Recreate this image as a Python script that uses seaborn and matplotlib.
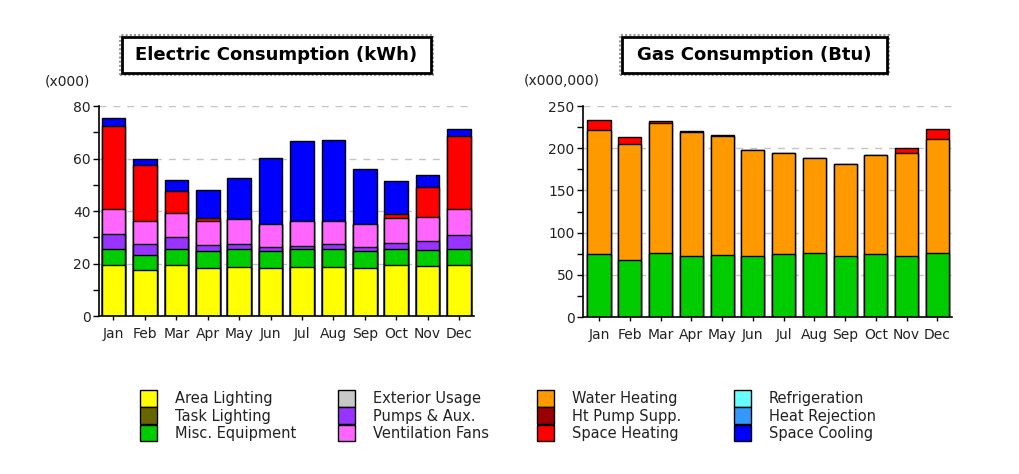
# Monthly electric and gas consumption, stacked by end use

import pandas as pd
import numpy as np
import matplotlib
matplotlib.use('Agg')
import matplotlib.pyplot as plt
from matplotlib.patches import Patch, Rectangle
from matplotlib.ticker import MultipleLocator
import seaborn as sns

sns.set_style('ticks')
plt.rcParams['font.family'] = ['DejaVu Sans']

# Data
months = ['Jan', 'Feb', 'Mar', 'Apr', 'May', 'Jun', 'Jul', 'Aug', 'Sep', 'Oct', 'Nov', 'Dec']

## Electric (x000 kWh)
elec_area_lighting = [19.3, 17.4, 19.3, 18.4, 18.8, 18.3, 18.8, 18.8, 18.3, 19.3, 18.9, 19.4]
elec_misc_equipment = [6.4, 5.8, 6.3, 6.3, 6.8, 6.4, 6.8, 6.8, 6.5, 6.3, 6.2, 6.1]
elec_pumps_aux = [5.5, 4.3, 4.4, 2.4, 2.0, 1.6, 1.2, 1.9, 1.5, 2.4, 3.6, 5.5]
elec_vent_fans = [9.5, 8.6, 9.3, 9.2, 9.2, 8.8, 9.3, 8.6, 8.8, 9.3, 9.1, 9.8]
elec_space_heating = [31.7, 21.3, 8.3, 1.1, 0.0, 0.0, 0.0, 0.0, 0.0, 1.6, 11.3, 27.7]
elec_space_cooling = [3.0, 2.4, 4.2, 10.6, 15.6, 25.1, 30.4, 30.8, 20.9, 12.4, 4.7, 2.8]

## Gas (x000,000 Btu)
gas_misc_equipment = [74.4, 68.0, 75.9, 72.8, 74.0, 72.8, 74.4, 76.3, 72.8, 74.4, 72.8, 76.3]
gas_water_heating = [147.1, 137.3, 153.5, 146.3, 140.4, 124.6, 119.8, 111.6, 108.4, 117.8, 121.8, 134.9]
gas_space_heating = [11.9, 8.3, 2.4, 1.6, 1.2, 0.0, 0.0, 0.0, 0.0, 0.0, 5.6, 11.5]

# Colours for each end use
colors = {
    'Area Lighting': '#ffff00',
    'Task Lighting': '#666600',
    'Misc. Equipment': '#00cc00',
    'Exterior Usage': '#c8c8c8',
    'Pumps & Aux.': '#9933ff',
    'Ventilation Fans': '#ff66ff',
    'Water Heating': '#ff9900',
    'Ht Pump Supp.': '#990000',
    'Space Heating': '#ff0000',
    'Refrigeration': '#66ffff',
    'Heat Rejection': '#3399ff',
    'Space Cooling': '#0000ff',
}

elec = pd.DataFrame({'Area Lighting': elec_area_lighting,
                     'Misc. Equipment': elec_misc_equipment,
                     'Pumps & Aux.': elec_pumps_aux,
                     'Ventilation Fans': elec_vent_fans,
                     'Space Heating': elec_space_heating,
                     'Space Cooling': elec_space_cooling}, index=months)

gas = pd.DataFrame({'Misc. Equipment': gas_misc_equipment,
                    'Water Heating': gas_water_heating,
                    'Space Heating': gas_space_heating}, index=months)


def stacked(ax, df):
    # draw cumulative totals from the top layer down so lower layers cover
    cum = df.cumsum(axis=1)
    for col in cum.columns[::-1]:
        sns.barplot(x=cum.index, y=cum[col].values, order=months, ax=ax,
                    color=colors[col], saturation=1, width=0.75,
                    edgecolor='black', linewidth=1, errorbar=None)
    ax.set_xlabel('')
    ax.set_ylabel('')


def style_axis(ax, ymax, major, minor, xleft):
    ax.set_ylim(0, ymax)
    ax.set_xlim(xleft, 11.475)
    ax.yaxis.set_major_locator(MultipleLocator(major))
    ax.yaxis.set_minor_locator(MultipleLocator(minor))
    ax.set_axisbelow(True)
    ax.grid(axis='y', which='major', color='#c4c4c4', linestyle=(0, (5, 5)), linewidth=1)
    sns.despine(ax=ax)
    for s in ['left', 'bottom']:
        ax.spines[s].set_color('black')
        ax.spines[s].set_linewidth(1.2)
    ax.tick_params(axis='y', which='both', direction='out', length=4, width=1,
                   color='black', labelsize=10, labelcolor='#222222', pad=2)
    ax.tick_params(axis='x', direction='out', length=3, width=1, color='black',
                   labelsize=10, labelcolor='#222222', pad=5)


fig = plt.figure(figsize=(10.2, 4.74), dpi=100)
fig.patch.set_facecolor('white')

ax1 = fig.add_axes([0.0971, 0.3333, 0.3676, 0.443])
stacked(ax1, elec)
style_axis(ax1, 80, 20, 10, -0.46)

ax2 = fig.add_axes([0.5716, 0.3312, 0.3618, 0.4451])
stacked(ax2, gas)
style_axis(ax2, 250, 50, 25, -0.518)

# Unit labels
fig.text(0.0441, 0.829, '(x000)', fontsize=10, color='#222222', va='center')
fig.text(0.5137, 0.829, '(x000,000)', fontsize=10, color='#222222', va='center')

# Boxed titles
for x0, w, title in [(0.1196, 0.303, 'Electric Consumption (kWh)'),
                     (0.6098, 0.260, 'Gas Consumption (Btu)')]:
    y0, h = 0.846, 0.076
    fig.patches.append(Rectangle((x0 - 0.002, y0 - 0.004), w + 0.004, h + 0.008,
                                 transform=fig.transFigure, facecolor='white',
                                 edgecolor='#999999', linewidth=1.5, linestyle=(0, (1, 1))))
    fig.patches.append(Rectangle((x0, y0), w, h, transform=fig.transFigure,
                                 facecolor='white', edgecolor='black', linewidth=2))
    fig.text(x0 + w / 2, y0 + h / 2, title, fontsize=13, fontweight='bold',
             ha='center', va='center', color='black')

# Legend: four columns of three
legend_cols = [['Area Lighting', 'Task Lighting', 'Misc. Equipment'],
               ['Exterior Usage', 'Pumps & Aux.', 'Ventilation Fans'],
               ['Water Heating', 'Ht Pump Supp.', 'Space Heating'],
               ['Refrigeration', 'Heat Rejection', 'Space Cooling']]
legend_x = [0.1373, 0.3314, 0.5265, 0.7196]

for xpos, names in zip(legend_x, legend_cols):
    handles = [Patch(facecolor=colors[n], edgecolor='black', linewidth=1) for n in names]
    leg = fig.legend(handles, names, loc='upper left', bbox_to_anchor=(xpos, 0.1772),
                     frameon=False, fontsize=10.5, handlelength=1.15, handleheight=1.4,
                     labelspacing=0.03, handletextpad=1.25, borderpad=0, borderaxespad=0)
    for t in leg.get_texts():
        t.set_color('#222222')

fig.savefig('out.png', dpi=100, facecolor='white')
